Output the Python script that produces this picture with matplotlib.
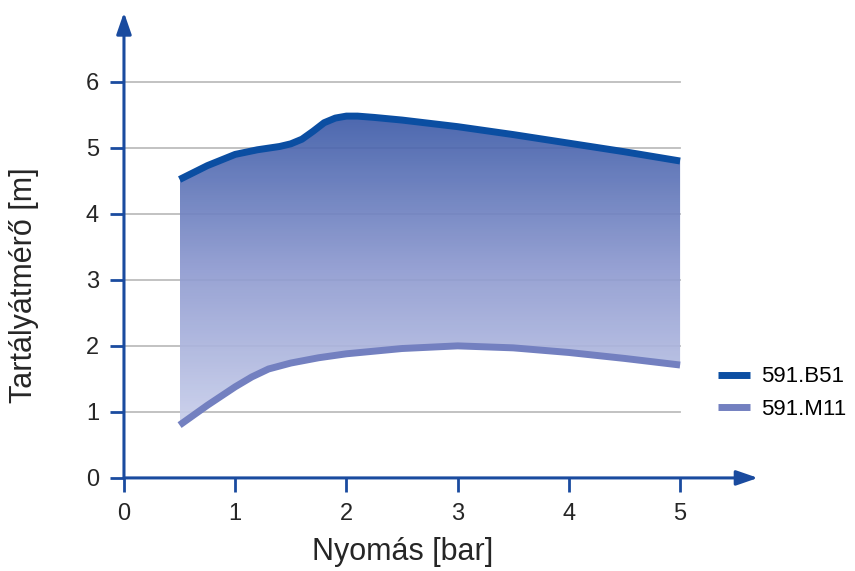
import numpy as np
import matplotlib.pyplot as plt
from matplotlib.colors import LinearSegmentedColormap
from matplotlib.patches import Polygon

plt.rcParams['font.family'] = ['Liberation Sans', 'DejaVu Sans']

# nyomás [bar] és tartályátmérő [m]
nyomas_b = [0.5, 0.75, 1.0, 1.2, 1.4, 1.5, 1.6, 1.7, 1.8, 1.9, 2.0, 2.1, 2.25, 2.5, 3.0, 3.5, 4.0, 4.5, 5.0]
b51 = [4.52, 4.73, 4.9, 4.97, 5.02, 5.06, 5.13, 5.25, 5.38, 5.45, 5.48, 5.48, 5.46, 5.42, 5.32, 5.2, 5.07, 4.94, 4.8]
nyomas_m = [0.5, 0.75, 1.0, 1.15, 1.3, 1.5, 1.75, 2.0, 2.5, 3.0, 3.5, 4.0, 4.5, 5.0]
m11 = [0.8, 1.1, 1.38, 1.53, 1.65, 1.74, 1.82, 1.88, 1.96, 2.0, 1.97, 1.9, 1.81, 1.71]

x_ticks = [0, 1, 2, 3, 4, 5]
y_ticks = [0, 1, 2, 3, 4, 5, 6]

kek = '#0b4ea2'
vilagos = '#7380c0'
tengely = '#1a4b9f'
szoveg = '#262626'

fig = plt.figure(figsize=(8.55, 5.71), dpi=100)
ax = fig.add_axes([0.145, 0.163, 0.748, 0.821])
ax.set_xlim(0, 5.75)
ax.set_ylim(0, 7.1)
for s in ax.spines.values():
    s.set_visible(False)

# rácsvonalak
for y in y_ticks[1:]:
    ax.plot([0, 5], [y, y], color='#bdbdbd', lw=1.3, zorder=1)

# színátmenetes kitöltés a két görbe között
cmap = LinearSegmentedColormap.from_list('kek', ['#c9cfeb', '#8e9ad0', '#3c5aa7'])
grad = np.linspace(0, 1, 256).reshape(-1, 1)
img = ax.imshow(grad, cmap=cmap, origin='lower', aspect='auto',
                extent=[nyomas_b[0], nyomas_b[-1], min(m11), max(b51)],
                alpha=0.92, zorder=2)
poly = Polygon(np.vstack([np.column_stack([nyomas_b, b51]),
                          np.column_stack([nyomas_m[::-1], m11[::-1]])]),
               closed=True, facecolor='none', edgecolor='none')
ax.add_patch(poly)
img.set_clip_path(poly)

ax.plot(nyomas_b, b51, color=kek, lw=5, solid_capstyle='butt',
        solid_joinstyle='round', zorder=4, label='591.B51')
ax.plot(nyomas_m, m11, color=vilagos, lw=5, solid_capstyle='butt',
        solid_joinstyle='round', zorder=4, label='591.M11')

# tengelyek nyíllal
nyil = dict(arrowstyle='-|>,head_length=1.3,head_width=0.45',
            color=tengely, lw=2.2, shrinkA=0, shrinkB=0)
ax.annotate('', xy=(5.7, 0), xytext=(0, 0), annotation_clip=False,
            arrowprops=nyil, zorder=5)
ax.annotate('', xy=(0, 7.05), xytext=(0, 0), annotation_clip=False,
            arrowprops=nyil, zorder=5)

ax.set_xticks(x_ticks)
ax.set_yticks(y_ticks)
ax.tick_params(axis='both', direction='out', length=10, width=2, color=tengely,
               labelsize=17, labelcolor=szoveg, pad=8)

fig.text(403 / 855, 1 - 552 / 571, 'Nyomás [bar]', fontsize=22, color=szoveg,
         ha='center', va='center')
fig.text(24 / 855, 1 - 285 / 571, 'Tartályátmérő [m]', fontsize=22, color=szoveg,
         ha='center', va='center', rotation=90)

fig.legend(loc='center left', bbox_to_anchor=(718 / 855, 1 - 393 / 571), frameon=False,
           fontsize=16, handlelength=1.45, handletextpad=0.5, labelspacing=0.5,
           borderpad=0, borderaxespad=0)

fig.savefig('out.png', dpi=100)
